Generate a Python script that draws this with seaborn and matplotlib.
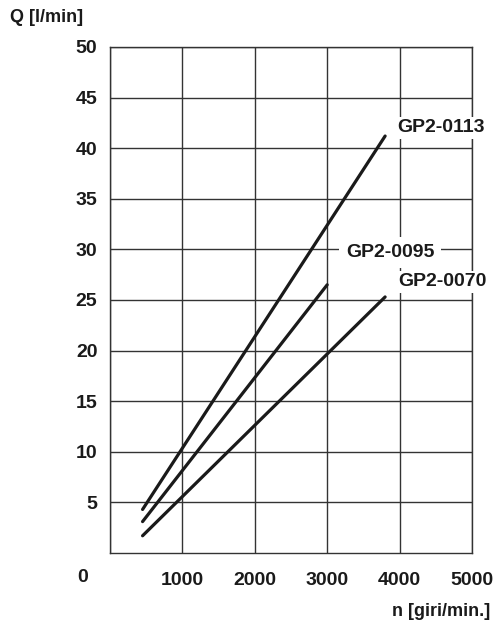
import pandas as pd
import seaborn as sns
import matplotlib.pyplot as plt

# Portata Q in funzione dei giri n
pumps = ['GP2-0113', 'GP2-0095', 'GP2-0070']
n_start = [450, 450, 450]
n_end = [3800, 3000, 3800]
q_start = [4.3, 3.1, 1.7]
q_end = [41.2, 26.5, 25.3]

rows = []
for p, n0, n1, q0, q1 in zip(pumps, n_start, n_end, q_start, q_end):
    rows.append({'pump': p, 'n': n0, 'Q': q0})
    rows.append({'pump': p, 'n': n1, 'Q': q1})
df = pd.DataFrame(rows)

x_ticks = [1000, 2000, 3000, 4000, 5000]
y_ticks = [5, 10, 15, 20, 25, 30, 35, 40, 45, 50]

sns.set_style('white')
plt.rcParams['font.family'] = ['Liberation Sans', 'DejaVu Sans']
plt.rcParams['font.weight'] = 'bold'
plt.rcParams['text.color'] = '#1a1a1a'
plt.rcParams['xtick.color'] = '#1a1a1a'
plt.rcParams['ytick.color'] = '#1a1a1a'

fig = plt.figure(figsize=(4.97, 6.23), dpi=100)
ax = fig.add_axes([0.2213, 0.1124, 0.7284, 0.8122])

sns.lineplot(data=df, x='n', y='Q', hue='pump', palette=['#1a1a1a'] * 3,
             linewidth=2.3, legend=False, ax=ax, zorder=3)

ax.set_xlim(0, 5000)
ax.set_ylim(0, 50)
ax.set_xticks([0] + x_ticks)
ax.set_yticks(y_ticks)
ax.set_xticklabels([''] + [str(v) for v in x_ticks])
ax.grid(True, color='#333333', linewidth=1.0)
ax.set_axisbelow(True)
for s in ax.spines.values():
    s.set_color('#333333')
    s.set_linewidth(1.0)
ax.tick_params(axis='both', length=0, labelsize=14)
ax.tick_params(axis='x', pad=14)
ax.tick_params(axis='y', pad=9)
ax.set_xlabel('')
ax.set_ylabel('')

# zero all'angolo in basso a sinistra
fig.text(83 / 497, 1 - 577 / 623, '0', fontsize=14, fontweight='bold',
         ha='center', va='center')
fig.text(10 / 497, 1 - 17 / 623, 'Q [l/min]', fontsize=13, fontweight='bold',
         ha='left', va='center')
fig.text(490 / 497, 1 - 611 / 623, 'n [giri/min.]', fontsize=13, fontweight='bold',
         ha='right', va='center')

box = dict(facecolor='white', edgecolor='none', pad=2)
ax.text(3964, 42.0, pumps[0], fontsize=14, ha='left',
        va='center', bbox=box, zorder=4)
ax.text(3867, 29.7, pumps[1], fontsize=14, ha='center',
        va='center', bbox=dict(facecolor='white', edgecolor='none', pad=5), zorder=4)
ax.text(3975, 26.8, pumps[2], fontsize=14, ha='left',
        va='center', bbox=box, zorder=4)

plt.savefig('out.png', dpi=100)
